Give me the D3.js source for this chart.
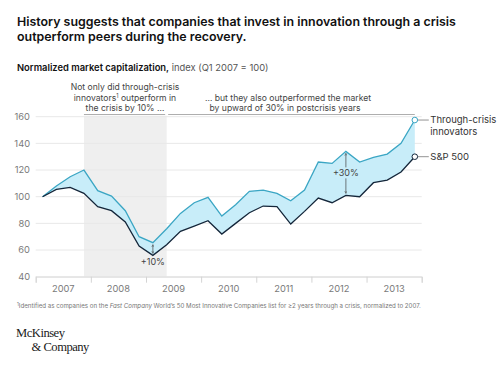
<!DOCTYPE html>
<html><head><meta charset="utf-8">
<script src="https://cdn.jsdelivr.net/npm/d3@7"></script>
<style>
body{margin:0;background:#fff;}
svg{display:block;font-family:"Inter","Noto Sans",sans-serif;}
</style></head>
<body><svg id="c" width="500" height="367"></svg>
<script>
const quarters = ["2007 Q1","2007 Q2","2007 Q3","2007 Q4","2008 Q1","2008 Q2","2008 Q3","2008 Q4","2009 Q1","2009 Q2","2009 Q3","2009 Q4","2010 Q1","2010 Q2","2010 Q3","2010 Q4","2011 Q1","2011 Q2","2011 Q3","2011 Q4","2012 Q1","2012 Q2","2012 Q3","2012 Q4","2013 Q1","2013 Q2","2013 Q3","2013 Q4"];
const innovators = [100,108,115,120,104.5,100.5,89.5,70,65.5,76,87.5,95.5,99.5,85.5,94,104,105,102.5,97,105,126,125,134,126,129.5,132,140,157.5];
const sp500 = [100,105.5,107,102.5,92.5,89.5,81,63,56,64,74,78,82,72,80,88,93,92.5,79.5,89,99,95.5,101,100,110.5,112.5,118.5,130];
const years = [2007,2008,2009,2010,2011,2012,2013];
const yTicks = [40,60,80,100,120,140,160];
const crisisRange = ["2007 Q4","2009 Q2"];
const annot10 = {q:"2009 Q1", label:"+10%"};
const annot30 = {q:"2012 Q3", label:"+30%"};

const svg = d3.select("#c");
const C = {blue:"#3ba6c4", fill:"#c8edf9", dark:"#14263a", grid:"#e8e8e8", band:"#efefef", axis:"#7a7a7a"};

const qx = q => { const [y,qq] = q.split(" Q"); return +y + (+qq - 0.5)/4; };
const x = d3.scaleLinear().domain([2007,2014]).range([35.7,421.7]);
const y = d3.scaleLinear().domain([40,160]).range([276.7,116.7]);

// Title
const title = svg.append("text").attr("x",17).attr("font-size",12.4).attr("font-weight",600).attr("fill","#111");
title.append("tspan").attr("x",17).attr("y",26).text("History suggests that companies that invest in innovation through a crisis");
title.append("tspan").attr("x",17).attr("y",40.5).text("outperform peers during the recovery.");

const sub = svg.append("text").attr("x",17).attr("y",71).attr("font-size",9.4).attr("fill","#111");
sub.append("tspan").attr("font-weight",600).text("Normalized market capitalization,");
sub.append("tspan").attr("fill","#555").text(" index (Q1 2007 = 100)");

// crisis band
const bx0 = x(qx(crisisRange[0])), bx1 = x(qx(crisisRange[1]));
svg.append("rect").attr("x",bx0).attr("y",y(160)-1).attr("width",bx1-bx0).attr("height",y(40)-y(160)+1).attr("fill",C.band);

// grid
svg.append("g").selectAll("line").data(yTicks).join("line")
  .attr("x1",x(2007)).attr("x2",x(2014)).attr("y1",d=>y(d)).attr("y2",d=>y(d))
  .attr("stroke",C.grid).attr("stroke-width",1);
svg.append("g").selectAll("text").data(yTicks).join("text")
  .attr("x",30).attr("y",d=>y(d)+3.3).attr("text-anchor","end").attr("font-size",9.3).attr("fill",C.axis).text(d=>d);

// x axis
const xAxis = d3.axisBottom(x).tickValues(d3.range(2007,2015)).tickSize(6).tickFormat("");
const gx = svg.append("g").attr("transform",`translate(0,${y(40)})`).call(xAxis);
gx.select(".domain").attr("stroke","#dcdcdc");
gx.selectAll(".tick line").attr("stroke","#d4d4d4");
svg.append("g").selectAll("text").data(years).join("text")
  .attr("x",d=>x(d+0.5)).attr("y",292).attr("text-anchor","middle").attr("font-size",9.3).attr("fill",C.axis).text(d=>d);

// area between
const data = quarters.map((q,i)=>({x:qx(q), a:innovators[i], b:sp500[i]}));
svg.append("path").datum(data).attr("fill",C.fill)
  .attr("d", d3.area().x(d=>x(d.x)).y0(d=>y(d.b)).y1(d=>y(d.a)));
const line = k => d3.line().x(d=>x(d.x)).y(d=>y(d[k]));
svg.append("path").datum(data).attr("fill","none").attr("stroke",C.blue).attr("stroke-width",1.3).attr("d",line("a"));
svg.append("path").datum(data).attr("fill","none").attr("stroke",C.dark).attr("stroke-width",1.3).attr("d",line("b"));

// end markers and labels
const last = data[data.length-1];
[["a",C.blue,["Through-crisis","innovators"]],["b",C.dark,["S&P 500"]]].forEach(([k,col,lab])=>{
  const cy = y(last[k]), cx = x(last.x);
  svg.append("line").attr("x1",cx+3).attr("x2",cx+14).attr("y1",cy).attr("y2",cy).attr("stroke","#777").attr("stroke-width",0.8);
  svg.append("circle").attr("cx",cx).attr("cy",cy).attr("r",2.8).attr("fill","#fff").attr("stroke",col).attr("stroke-width",1);
  lab.forEach((t,i)=>svg.append("text").attr("x",cx+15.5).attr("y",cy+3.3+i*11.5).attr("font-size",9.5).attr("fill","#333").text(t));
});

// defs arrow
const defs = svg.append("defs");
defs.append("marker").attr("id","ar").attr("viewBox","0 0 6 6").attr("refX",5).attr("refY",3)
  .attr("markerWidth",4).attr("markerHeight",4).attr("orient","auto-start-reverse")
  .append("path").attr("d","M0,0.5L5,3L0,5.5").attr("fill","none").attr("stroke","#444").attr("stroke-width",1);

function diffArrow(a){
  const i = quarters.indexOf(a.q), d = data[i], px = x(d.x);
  svg.append("line").attr("x1",px).attr("x2",px).attr("y1",y(d.b)-2).attr("y2",y(d.a)+2)
    .attr("stroke","#444").attr("stroke-width",0.7).attr("marker-start","url(#ar)").attr("marker-end","url(#ar)");
  return {px, d};
}
const a10 = diffArrow(annot10);
svg.append("text").attr("x",a10.px).attr("y",y(a10.d.b)+10).attr("text-anchor","middle").attr("font-size",9).attr("fill","#444").text(annot10.label);
const a30 = diffArrow(annot30);
const ly = (y(a30.d.a)+y(a30.d.b))/2;
svg.append("rect").attr("x",a30.px-12).attr("y",ly-6).attr("width",24).attr("height",11).attr("fill",C.fill);
svg.append("text").attr("x",a30.px).attr("y",ly+3).attr("text-anchor","middle").attr("font-size",9).attr("fill","#444").text(annot30.label);

// top annotations
svg.append("line").attr("x1",bx0).attr("x2",bx1-1.5).attr("y1",114.5).attr("y2",114.5).attr("stroke","#999").attr("stroke-width",0.8);
svg.append("line").attr("x1",bx1+1.5).attr("x2",x(last.x)).attr("y1",114.5).attr("y2",114.5).attr("stroke","#999").attr("stroke-width",0.8);
const t1 = svg.append("text").attr("text-anchor","middle").attr("font-size",8.6).attr("fill","#444");
t1.append("tspan").attr("x",125).attr("y",90).text("Not only did through-crisis");
const l2 = t1.append("tspan").attr("x",125).attr("y",100.5);
l2.append("tspan").text("innovators");
l2.append("tspan").attr("font-size",5.5).attr("dy",-3).text("1");
l2.append("tspan").attr("dy",3).text(" outperform in");
t1.append("tspan").attr("x",125).attr("y",111).text("the crisis by 10% …");
const t2 = svg.append("text").attr("text-anchor","middle").attr("font-size",8.6).attr("fill","#444");
t2.append("tspan").attr("x",288).attr("y",100.5).text("… but they also outperformed the market");
t2.append("tspan").attr("x",285).attr("y",111).text("by upward of 30% in postcrisis years");

// footnote
const fn = svg.append("text").attr("x",17).attr("y",308).attr("font-size",6.15).attr("fill","#777");
fn.append("tspan").attr("font-size",4.5).attr("dy",-2).text("1");
fn.append("tspan").attr("dy",2).text("Identified as companies on the ");
fn.append("tspan").attr("font-style","italic").text("Fast Company");
fn.append("tspan").text(" World’s 50 Most Innovative Companies list for ≥2 years through a crisis, normalized to 2007.");

// logo
const logo = svg.append("text").attr("font-family","'Liberation Serif','DejaVu Serif',serif").attr("font-size",12.6).attr("fill","#1a1a1a").attr("letter-spacing",-0.5);
logo.append("tspan").attr("x",16).attr("y",337).text("McKinsey");
logo.append("tspan").attr("x",31.5).attr("y",351).text("& Company");
</script></body></html>
